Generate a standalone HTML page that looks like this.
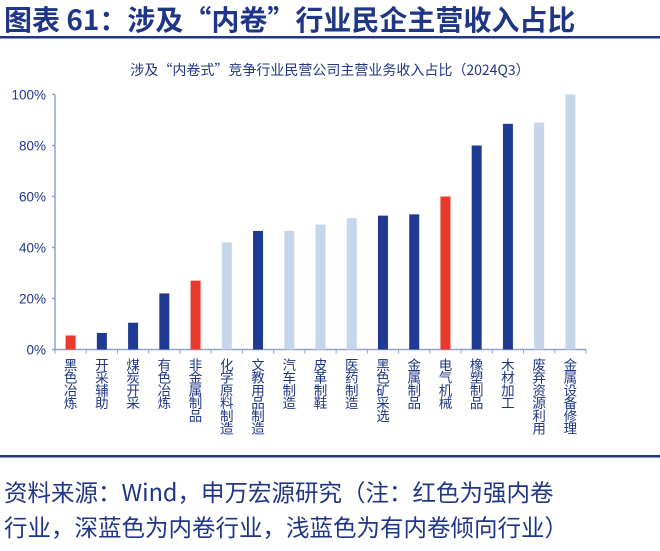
<!DOCTYPE html>
<html><head><meta charset="utf-8"><style>
body{margin:0;width:660px;height:546px;background:#fff;overflow:hidden;font-family:"Noto Sans CJK SC","Liberation Sans",sans-serif}
</style></head><body>
<svg width="660" height="546" xmlns="http://www.w3.org/2000/svg">
<text x="4" y="30" font-size="28" font-weight="bold" fill="#1f3686" font-family="Noto Sans CJK SC,Liberation Sans,sans-serif">图表 61：涉及“内卷”行业民企主营收入占比</text>
<rect x="0" y="36" width="660" height="2.5" fill="#1f3686"/>
<text x="330" y="75" font-size="14" fill="#1f3686" text-anchor="middle" font-family="Noto Sans CJK SC,Liberation Sans,sans-serif">涉及“内卷式”竞争行业民营公司主营业务收入占比（2024Q3）</text>
<g id="axes"></g>
<g id="bars"></g>
<rect x="0" y="455" width="660" height="2.5" fill="#1f3686"/>
<text x="4" y="501" font-size="23.5" fill="#1f3686" font-family="Noto Sans CJK SC,Liberation Sans,sans-serif">资料来源：Wind，申万宏源研究（注：红色为强内卷</text>
<text x="4" y="536" font-size="23.5" fill="#1f3686" font-family="Noto Sans CJK SC,Liberation Sans,sans-serif">行业，深蓝色为内卷行业，浅蓝色为有内卷倾向行业）</text>
</svg>
<script>
const categories=["黑色冶炼","开采辅助","煤炭开采","有色冶炼","非金属制品","化学原料制造","文教用品制造","汽车制造","皮革制鞋","医药制造","黑色矿采选","金属制品","电气机械","橡塑制品","木材加工","废弃资源利用","金属设备修理"];
const values=[5.5,6.5,10.5,22,27,42,46.5,46.5,49,51.5,52.5,53,60,80,88.5,89,100];
const levels=["strong","mid","mid","mid","strong","tend","mid","tend","tend","tend","mid","mid","strong","mid","mid","tend","tend"];
const yTicks=[0,20,40,60,80,100];
const colors={strong:"#e8392b",mid:"#1f3a93",tend:"#c5d5ea"};
const NS="http://www.w3.org/2000/svg";
const x0=55,x1=586,y0=349.5,y1=94.5;
const bw=(x1-x0)/categories.length;
const yS=v=>y0-(v/100)*(y0-y1);
const xC=i=>x0+bw*(i+0.5);
const axes=document.getElementById('axes'),bars=document.getElementById('bars');
function mk(tag,attrs,parent){const e=document.createElementNS(NS,tag);for(const k in attrs)e.setAttribute(k,attrs[k]);parent.appendChild(e);return e;}
const ya=mk('line',{x1:x0,x2:x0,y1:y1,y2:y0,stroke:'#8fa3cc','stroke-width':1.5},axes);


const xa=mk('line',{x1:x0,x2:x1,y1:y0,y2:y0,stroke:'#8fa3cc','stroke-width':1.5},axes);


yTicks.forEach(t=>{
  const tk=mk('line',{x1:x0-3,x2:x0,y1:yS(t),y2:yS(t),stroke:'#8fa3cc','stroke-width':1.5},axes);
  
  
  const tx=mk('text',{x:x0-9,y:yS(t)+5,'font-size':13.5,fill:'#1f3686','text-anchor':'end','font-family':'Liberation Sans,sans-serif'},axes);
  
  
  tx.textContent=t+'%';
});
for(let i=0;i<=categories.length;i++){
  const tk=mk('line',{x1:x0+bw*i,x2:x0+bw*i,y1:y0,y2:y0+4,stroke:'#8fa3cc','stroke-width':1},axes);
  
  
}
categories.forEach((c,i)=>{
  const r=mk('rect',{x:xC(i)-5,y:yS(values[i]),width:10,height:y0-yS(values[i]),fill:colors[levels[i]]},bars);
  
  
  const t=mk('text',{'font-size':13.5,fill:'#1f3686','text-anchor':'middle'},axes);
  
  
  [...c].forEach((ch,j)=>{const s=mk('tspan',{x:xC(i),y:370+j*12.7},t);s.textContent=ch;});
});
</script>
</body></html>
